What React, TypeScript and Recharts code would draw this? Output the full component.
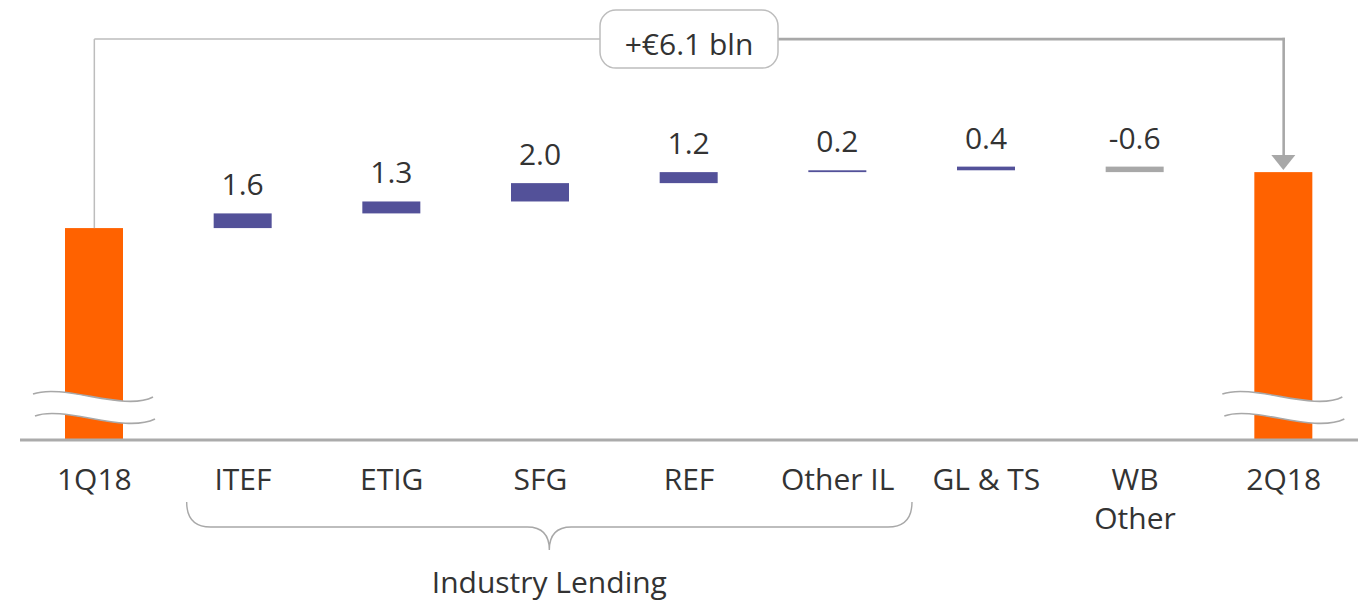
import React from 'react';
import { BarChart, Bar, XAxis, YAxis, LabelList, ReferenceLine, ReferenceArea } from 'recharts';

// ---- data ----
const categories = ['1Q18', 'ITEF', 'ETIG', 'SFG', 'REF', 'Other IL', 'GL & TS', 'WB Other', '2Q18'];
const tickLines = [['1Q18'], ['ITEF'], ['ETIG'], ['SFG'], ['REF'], ['Other IL'], ['GL & TS'], ['WB', 'Other'], ['2Q18']];
// opening balance measured above the axis break (bln)
const openingAboveBreak = 23.1;
const movements = [1.6, 1.3, 2.0, 1.2, 0.2, 0.4, -0.6];
const totalChangeLabel = '+€6.1 bln';
const groupLabel = 'Industry Lending';
const groupFrom = 'ITEF';
const groupTo = 'Other IL';
const bracketLevel = 43.7;
const yDomain: [number, number] = [0, 46];

const ORANGE = '#FF6200';
const PURPLE = '#535199';
const GREY = '#A8A8A8';
const TEXT = '#333333';
const FONT = '"Open Sans", sans-serif';

type Row = { name: string; base: number; span: number; kind: string; label: string };
const data: Row[] = [];
let running = openingAboveBreak;
data.push({ name: categories[0], base: 0, span: openingAboveBreak, kind: 'total', label: '' });
movements.forEach((m, i) => {
  const next = running + m;
  data.push({
    name: categories[i + 1],
    base: Math.min(running, next),
    span: Math.abs(m),
    kind: m >= 0 ? 'up' : 'down',
    label: m.toFixed(1),
  });
  running = next;
});
data.push({ name: categories[categories.length - 1], base: 0, span: running, kind: 'total', label: '' });
const lastName = categories[categories.length - 1];
const firstName = categories[0];
const boxAt = 'REF';

const BarShape = (p: any) => {
  const { x, y, width, height, payload } = p;
  if (!payload) return null;
  const fill = payload.kind === 'total' ? ORANGE : payload.kind === 'up' ? PURPLE : GREY;
  const rect = <rect x={x} y={y} width={width} height={Math.max(height, 1.5)} fill={fill} />;
  if (payload.kind !== 'total') return rect;
  const cx = x + width / 2;
  const B = y + height;
  const up = `M${cx - 61},${B - 46} C${cx - 30},${B - 57} ${cx + 30},${B - 28} ${cx + 59},${B - 43}`;
  const lo = `M${cx - 59},${B - 24} C${cx - 30},${B - 35} ${cx + 30},${B - 6} ${cx + 61},${B - 21}`;
  const band = `M${cx - 61},${B - 46} C${cx - 30},${B - 57} ${cx + 30},${B - 28} ${cx + 59},${B - 43} L${cx + 61},${B - 21} C${cx + 30},${B - 6} ${cx - 30},${B - 35} ${cx - 59},${B - 24} Z`;
  const isLast = payload.name === lastName;
  return (
    <g>
      {rect}
      <path d={band} fill="#fff" stroke="none" />
      <path d={up} fill="none" stroke={GREY} strokeWidth={1.6} />
      <path d={lo} fill="none" stroke={GREY} strokeWidth={1.6} />
      {isLast && (
        <polygon points={`${cx - 12},${y - 17} ${cx + 12},${y - 17} ${cx},${y - 2}`} fill={GREY} />
      )}
    </g>
  );
};

const ValueLabel = (p: any) => {
  const { x, y, width, value } = p;
  if (!value) return null;
  return (
    <text x={Number(x) + Number(width) / 2} y={Number(y) - 18} textAnchor="middle" fontSize={30} fill={TEXT} fontFamily={FONT}>
      {value}
    </text>
  );
};

const Tick = (p: any) => {
  const { x, y, payload } = p;
  const idx = categories.indexOf(payload.value);
  const lines = tickLines[idx] || [payload.value];
  return (
    <g>
      {lines.map((t, i) => (
        <text key={i} x={x} y={y + 50 + i * 39} textAnchor="middle" fontSize={30} fill={TEXT} fontFamily={FONT}>
          {t}
        </text>
      ))}
    </g>
  );
};

const Brace = (p: any) => {
  const { x, y, width, height } = p;
  const B = y + height;
  const xl = x + 18;
  const xr = x + width;
  const xm = (xl + xr) / 2;
  const y0 = B + 62;
  const y1 = B + 87;
  const y2 = B + 110;
  const d = `M${xl},${y0} Q${xl},${y1} ${xl + 24},${y1} L${xm - 22},${y1} Q${xm},${y1} ${xm},${y2} Q${xm},${y1} ${xm + 22},${y1} L${xr - 24},${y1} Q${xr},${y1} ${xr},${y0}`;
  return (
    <g>
      <path d={d} fill="none" stroke={GREY} strokeWidth={1.4} />
      <text x={xm} y={B + 153} textAnchor="middle" fontSize={30} fill={TEXT} fontFamily={FONT}>
        {groupLabel}
      </text>
    </g>
  );
};

const BoxLabel = (p: any) => {
  const vb = p.viewBox || {};
  const cx = vb.x;
  const cy = vb.y;
  return (
    <g>
      <rect x={cx - 89} y={cy - 29} width={178} height={58} rx={16} ry={16} fill="#fff" stroke="#BDBDBD" strokeWidth={1.5} />
      <text x={cx} y={cy + 16} textAnchor="middle" fontSize={30} fill={TEXT} fontFamily={FONT}>
        {totalChangeLabel}
      </text>
    </g>
  );
};

export default function App() {
  return (
    <div style={{ position: 'absolute', left: 0, top: 0, width: 1363, height: 602, background: '#fff' }}>
      <BarChart width={1363} height={602} data={data} margin={{ top: 18, right: 5, bottom: 102, left: 20 }} barSize={58}>
        <XAxis
          dataKey="name"
          interval={0}
          height={60}
          tickSize={0}
          tickMargin={0}
          tickLine={false}
          axisLine={{ stroke: '#ABABAB', strokeWidth: 3 }}
          tick={<Tick />}
        />
        <YAxis hide domain={yDomain} allowDataOverflow />
        <ReferenceLine
          segment={[{ x: firstName, y: openingAboveBreak }, { x: firstName, y: bracketLevel }]}
          stroke="#BDBDBD"
          strokeWidth={1.5}
        />
        <ReferenceLine
          segment={[{ x: firstName, y: bracketLevel }, { x: boxAt, y: bracketLevel }]}
          stroke="#BDBDBD"
          strokeWidth={1.5}
        />
        <ReferenceLine
          segment={[{ x: lastName, y: bracketLevel }, { x: lastName, y: running + 1.9 }]}
          stroke={GREY}
          strokeWidth={2.6}
          strokeLinecap="square"
        />
        <ReferenceLine
          segment={[{ x: boxAt, y: bracketLevel }, { x: lastName, y: bracketLevel }]}
          stroke={GREY}
          strokeWidth={2.6}
          strokeLinecap="square"
          label={<BoxLabel />}
        />
        <ReferenceArea x1={groupFrom} x2={groupTo} y1={0} y2={1} shape={<Brace />} ifOverflow="visible" />
        <Bar dataKey="base" stackId="w" fill="transparent" isAnimationActive={false} />
        <Bar dataKey="span" stackId="w" shape={<BarShape />} isAnimationActive={false}>
          <LabelList dataKey="label" content={<ValueLabel />} />
        </Bar>
      </BarChart>
    </div>
  );
}
